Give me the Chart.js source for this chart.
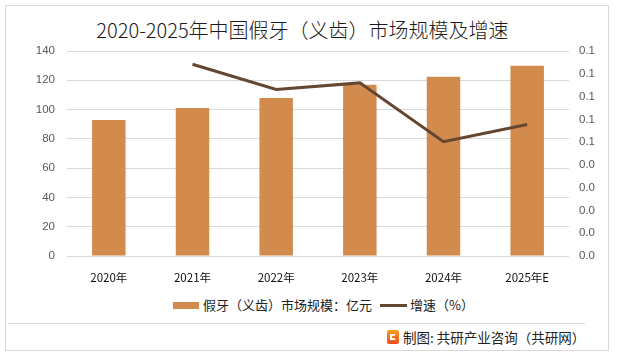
<!DOCTYPE html>
<html>
<head>
<meta charset="utf-8">
<script src="https://cdn.jsdelivr.net/npm/chart.js@4.4.1/dist/chart.umd.min.js"></script>
<style>
  html, body { margin:0; padding:0; background:#fff; }
  body { width:617px; height:357px; position:relative; overflow:hidden; font-family:"Noto Sans CJK SC","Noto Sans",sans-serif; }
  #frame { position:absolute; left:5px; top:5px; width:604px; height:346px; border:1px solid #d9d9d9; box-sizing:border-box; }
  #title { position:absolute; left:0; width:605px; top:16px; text-align:center; font-size:20px; font-weight:300; color:#1a1a1a; line-height:28px; }
  #wrap { position:absolute; left:0; top:0; width:617px; height:290px; }
  #legend { position:absolute; top:296px; left:0; width:617px; font-size:13px; color:#222; line-height:18px; }
  .li { position:absolute; top:0; white-space:nowrap; }
  .sw-bar { position:absolute; width:26px; height:7px; top:6px; }
  .sw-line { position:absolute; width:27px; height:3px; top:8px; }
  #sep { position:absolute; left:8px; top:323px; width:577px; height:1px; background:#d9d9d9; }
  #source { position:absolute; left:403px; top:328px; font-size:13.5px; color:#222; line-height:18px; white-space:nowrap; }
  #logo { position:absolute; left:387px; top:330px; width:12px; height:14px; border-radius:2px; background:linear-gradient(180deg,#f7a21b,#ee4a1f); }
  #logo:after { content:""; position:absolute; left:3px; top:4px; width:6px; height:6px; border:2px solid #fff; border-radius:1px; border-right-color:transparent; box-sizing:border-box; }
</style>
</head>
<body>
<div id="frame"></div>
<div id="title">2020-2025年中国假牙（义齿）市场规模及增速</div>
<div id="wrap"><canvas id="c"></canvas></div>
<div id="legend">
  <span class="sw-bar" id="swb" style="left:173px;"></span>
  <span class="li" style="left:203px;">假牙（义齿）市场规模：亿元</span>
  <span class="sw-line" id="swl" style="left:380px;"></span>
  <span class="li" style="left:410px;">增速（%）</span>
</div>
<div id="sep"></div>
<div id="logo"></div>
<div id="source">制图: 共研产业咨询（共研网）</div>
<script>
const categories = ["2020年","2021年","2022年","2023年","2024年","2025年E"];
const marketSize = [92.9, 101.1, 107.9, 117.0, 122.5, 130.0];
const growthRate = [null, 0.0842, 0.0731, 0.0760, 0.0502, 0.0577];
const leftTicks = [0, 20, 40, 60, 80, 100, 120, 140];
const rightTickStep = 0.01;
const rightMax = 0.09;

const barColor = "#d28b4d";
const lineColor = "#654631";
document.getElementById("swb").style.background = barColor;
document.getElementById("swl").style.background = lineColor;

new Chart(document.getElementById("c"), {
  data: {
    labels: categories,
    datasets: [
      { type: "line", label: "增速（%）", data: growthRate, yAxisID: "y1",
        borderColor: lineColor, borderWidth: 3, pointRadius: 0, tension: 0, order: 0 },
      { type: "bar", label: "假牙（义齿）市场规模：亿元", data: marketSize, yAxisID: "y",
        backgroundColor: barColor, barPercentage: 0.4, categoryPercentage: 1.0, order: 1 }
    ]
  },
  options: {
    responsive: true, maintainAspectRatio: false, animation: false,
    layout: { padding: { top: 51, bottom: 0, left: 0, right: 0 } },
    plugins: { legend: { display: false }, title: { display: false }, tooltip: { enabled: false } },
    scales: {
      x: {
        grid: { display: false, drawTicks: false },
        border: { display: false },
        ticks: { color: "#111", font: { family: "Noto Sans CJK SC", size: 11.5 }, padding: 15 },
        afterFit: s => { s.height = 34; }
      },
      y: {
        position: "left", min: leftTicks[0], max: leftTicks[leftTicks.length-1],
        afterBuildTicks: s => { s.ticks = leftTicks.map(v => ({ value: v })); },
        grid: { color: "#d9d9d9", lineWidth: 1, drawTicks: false },
        border: { display: false },
        ticks: { color: "#595959", font: { family: "Liberation Sans", size: 11.5 }, padding: 12 },
        afterFit: s => { s.width = 67; }
      },
      y1: {
        position: "right", min: 0, max: rightMax,
        ticks: { stepSize: rightTickStep, color: "#595959", font: { family: "Liberation Sans", size: 11.5 }, padding: 10,
          callback: v => Number(v).toFixed(1) },
        grid: { display: false, drawTicks: false },
        border: { display: false },
        afterFit: s => { s.width = 48; }
      }
    }
  }
});
</script>
</body>
</html>
